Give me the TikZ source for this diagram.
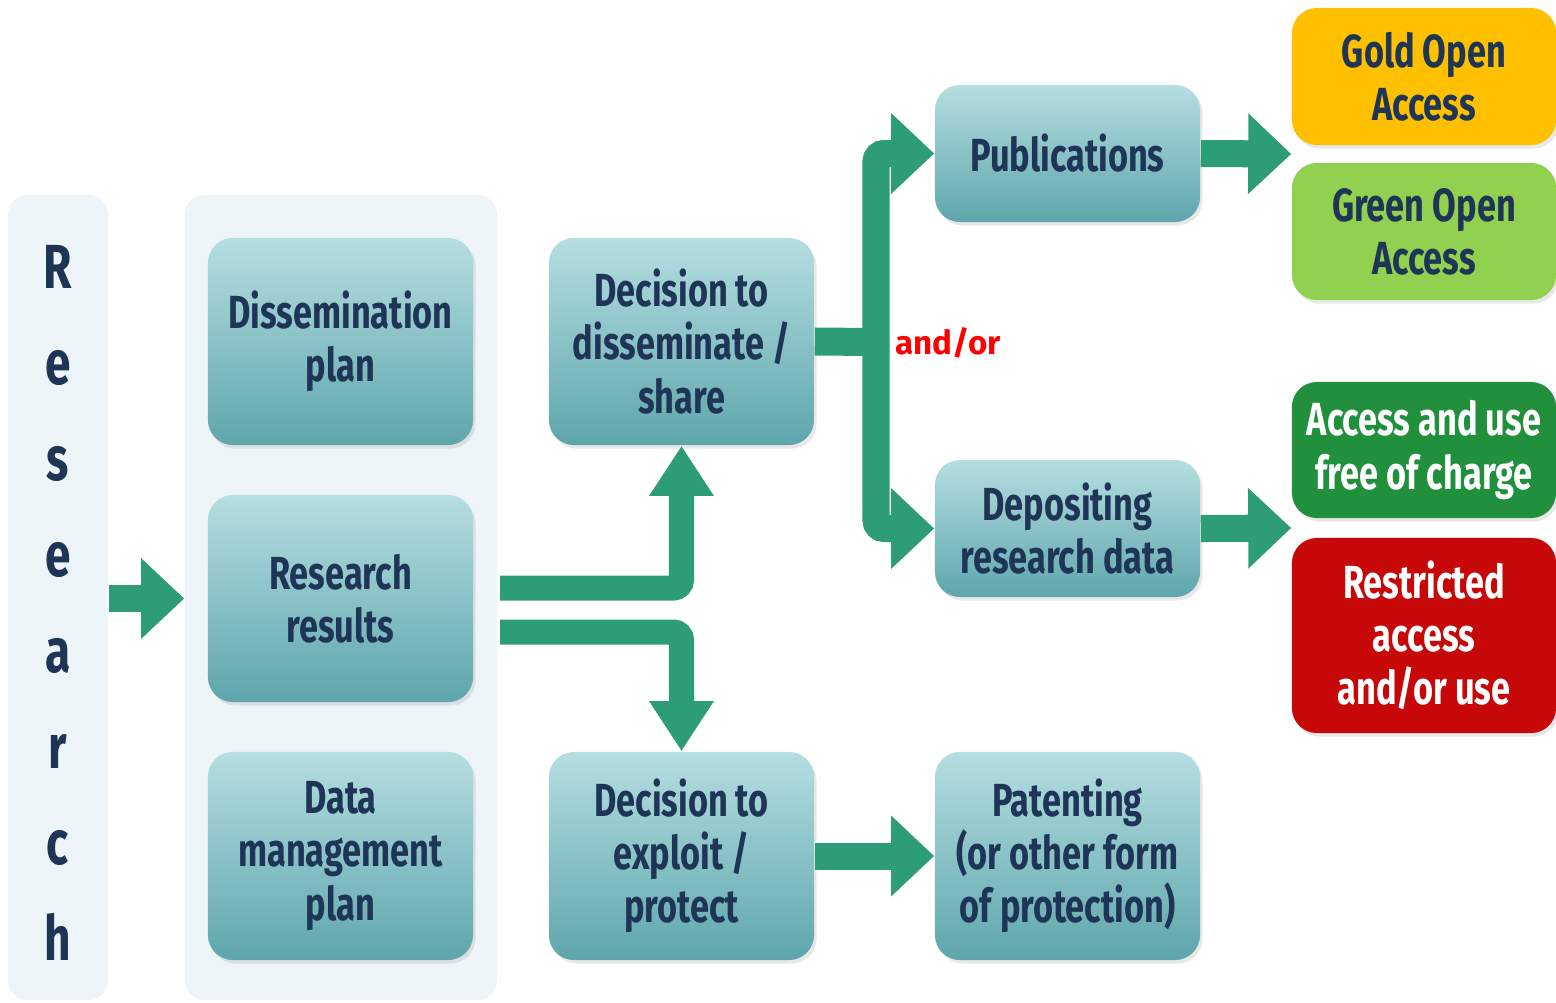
\documentclass[tikz,border=0pt]{standalone}
\usepackage{fontspec}
\setmainfont{Fira Sans}
\newfontfamily\boxfont{Fira Sans}[FakeStretch=0.74]
\usetikzlibrary{arrows.meta,shadows,calc}
\definecolor{navy}{HTML}{1F3555}
\definecolor{tealtop}{HTML}{B5DEE1}
\definecolor{tealbot}{HTML}{5EA6AC}
\definecolor{panelc}{HTML}{EEF5F8}
\definecolor{arrowc}{HTML}{2D9D78}
\definecolor{goldc}{HTML}{FFC000}
\definecolor{greenc}{HTML}{92D050}
\definecolor{accessc}{HTML}{20903C}
\definecolor{redc}{HTML}{C60808}
\tikzset{
  panel/.style={fill=panelc, rounded corners=0.2cm, minimum width=#1, minimum height=8.05cm, inner sep=0pt},
  basebox/.style={rounded corners=0.25cm, align=center, inner sep=0pt,
    font=\boxfont\bfseries\fontsize{13.2}{15.1}\selectfont,
    drop shadow={shadow xshift=0.025cm, shadow yshift=-0.035cm, opacity=0.18}},
  tealbox/.style={basebox, top color=tealtop, bottom color=tealbot, text=navy,
    minimum width=2.65cm, minimum height=#1},
  flatbox/.style={basebox, fill=#1, minimum width=2.64cm},
  letter/.style={anchor=base, text=navy, font=\boxfont\bfseries\fontsize{17.7}{20}\selectfont},
  bigarrow/.style={draw=arrowc, line width=0.27cm, -{Triangle[length=0.43cm, width=0.78cm]}},
  midarrow/.style={draw=arrowc, line width=0.25cm, rounded corners=0.08cm, -{Triangle[length=0.5cm, width=0.61cm]}},
  bar/.style={draw=arrowc, line width=0.28cm},
}
\begin{document}
\begin{tikzpicture}[x=0.01cm, y=-0.01cm]
\useasboundingbox (0,0) rectangle (1556,1002);

% panels
\node[panel=1.0cm] (R) at (58,597.5) {};
\node[panel=3.12cm] (M) at (341,597.5) {};

% Research letters
\node[letter] (l1) at (58,288) {R};
\node[letter] (l2) at (58,384) {e};
\node[letter] (l3) at (58,480) {s};
\node[letter] (l4) at (58,576) {e};
\node[letter] (l5) at (58,672) {a};
\node[letter] (l6) at (58,768) {r};
\node[letter] (l7) at (58,864) {c};
\node[letter] (l8) at (58,960) {h};

% teal boxes
\node[tealbox=2.07cm] (dplan) at (340.5,341.5) {Dissemination\\plan};
\node[tealbox=2.07cm] (res) at (340.5,598.5) {Research\\results};
\node[tealbox=2.08cm] (dmp) at (340.5,856) {Data\\management\\plan};
\node[tealbox=2.07cm] (decdis) at (681.5,341.5) {Decision to\\disseminate /\\share};
\node[tealbox=2.08cm] (decexp) at (681.5,856) {Decision to\\exploit /\\protect};
\node[tealbox=1.37cm] (pub) at (1067.5,153.5) {Publications};
\node[tealbox=1.37cm] (dep) at (1067.5,528.5) {Depositing\\research data};
\node[tealbox=2.08cm] (pat) at (1067.5,856) {Patenting\\(or other form\\of protection)};

% coloured boxes
\node[flatbox=goldc, text=navy, minimum height=1.37cm] (gold) at (1424,76.5) {Gold Open\\Access};
\node[flatbox=greenc, text=navy, minimum height=1.37cm] (green) at (1424,231.5) {Green Open\\Access};
\node[flatbox=accessc, text=white, minimum height=1.36cm] (acc) at (1424,450) {Access and use\\free of charge};
\node[flatbox=redc, text=white, minimum height=1.95cm] (restr) at (1424,635.5) {Restricted\\access\\and/or use};

% label
\node[text=red, anchor=west, inner sep=0pt, font=\bfseries\fontsize{9.4}{11}\selectfont] (andor) at (895,343) {and/or};

% arrows
\draw[bigarrow] (R.east |- res.west) -- (M.west |- res.west);

\coordinate (o1) at (500,588);
\coordinate (o2) at (500,632);
\draw[midarrow] (o1) -| (decdis.south);
\draw[midarrow] (o2) -| (decexp.north);

\coordinate (j1) at (876,342);
\draw[bar] (decdis.east) -- (j1);
\draw[bigarrow, rounded corners=0.08cm] (j1) |- (pub.west);
\draw[bigarrow, rounded corners=0.08cm] (j1) |- (dep.west);

\coordinate (g1) at ($(gold.south west)!0.5!(green.north west)$);
\coordinate (g2) at ($(acc.south west)!0.5!(restr.north west)$);
\draw[bigarrow] (pub.east) -- (g1);
\draw[bigarrow] (dep.east) -- (g2);
\draw[bigarrow] (decexp.east) -- (pat.west);
\end{tikzpicture}
\end{document}
